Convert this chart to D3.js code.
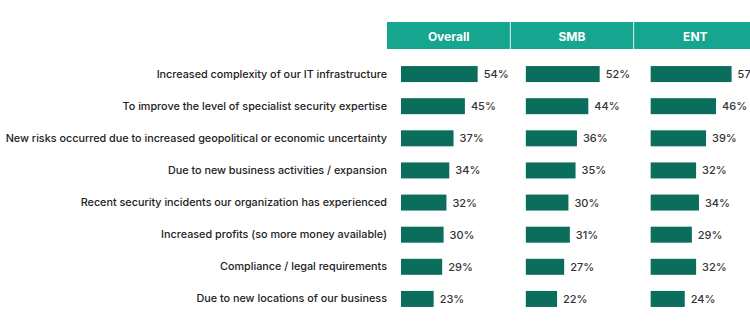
<!DOCTYPE html>
<html><head><meta charset="utf-8">
<script src="https://cdn.jsdelivr.net/npm/d3@7"></script>
<style>body{margin:0;background:#fff;}svg{display:block;}</style>
</head><body>
<svg id="c" width="750" height="331"></svg>
<script>
const categories = [
  "Increased complexity of our IT infrastructure",
  "To improve the level of specialist security expertise",
  "New risks occurred due to increased geopolitical or economic uncertainty",
  "Due to new business activities / expansion",
  "Recent security incidents our organization has experienced",
  "Increased profits (so more money available)",
  "Compliance / legal requirements",
  "Due to new locations of our business"
];
const groups = ["Overall", "SMB", "ENT"];
const overall = [54, 45, 37, 34, 32, 30, 29, 23];
const smb = [52, 44, 36, 35, 30, 31, 27, 22];
const ent = [57, 46, 39, 32, 34, 29, 32, 24];
const seriesValues = [overall, smb, ent];

const svg = d3.select("#c");
const font = "Inter, 'DejaVu Sans', sans-serif";

const col = d3.scaleBand().domain(groups).range([387, 757]).paddingInner(0);
const row = d3.scaleBand().domain(categories).range([58, 315]).padding(0);
const x = d3.scaleLinear().domain([0, 100]).range([0, 142]);
const cy = d => row(d) + row.bandwidth() / 2;

// header
const hdr = svg.append("g");
hdr.selectAll("rect").data(groups).join("rect")
  .attr("x", d => col(d)).attr("y", 22)
  .attr("width", col.bandwidth()).attr("height", 27)
  .attr("fill", "#16a58e");
hdr.selectAll("line").data(groups.slice(1)).join("line")
  .attr("x1", d => col(d)).attr("x2", d => col(d))
  .attr("y1", 22).attr("y2", 49)
  .attr("stroke", "#d8f0ea").attr("stroke-width", 1);
hdr.selectAll("text").data(groups).join("text")
  .attr("x", d => col(d) + col.bandwidth() / 2).attr("y", 36)
  .attr("text-anchor", "middle").attr("dominant-baseline", "central")
  .attr("fill", "#fff").attr("font-family", font)
  .attr("font-size", 12).attr("font-weight", 700)
  .text(d => d);

// category labels
svg.append("g").selectAll("text").data(categories).join("text")
  .attr("x", 387).attr("y", d => cy(d))
  .attr("text-anchor", "end").attr("dominant-baseline", "central")
  .attr("fill", "#222").attr("font-family", font).attr("font-size", 10.8)
  .attr("font-weight", 500)
  .text(d => d);

// bars
groups.forEach((g, gi) => {
  const vals = seriesValues[gi];
  const x0 = col(g) + 14 + gi * 1.5;
  const gg = svg.append("g");
  gg.selectAll("rect").data(vals).join("rect")
    .attr("x", x0)
    .attr("y", (d, i) => cy(categories[i]) - 8)
    .attr("width", d => x(d)).attr("height", 16)
    .attr("fill", "#0b6e5d");
  gg.selectAll("text").data(vals).join("text")
    .attr("x", d => x0 + x(d) + 6)
    .attr("y", (d, i) => cy(categories[i]))
    .attr("dominant-baseline", "central")
    .attr("fill", "#333").attr("font-family", font).attr("font-size", 11)
    .attr("font-weight", 500)
    .text(d => d + "%");
});
</script>
</body></html>
